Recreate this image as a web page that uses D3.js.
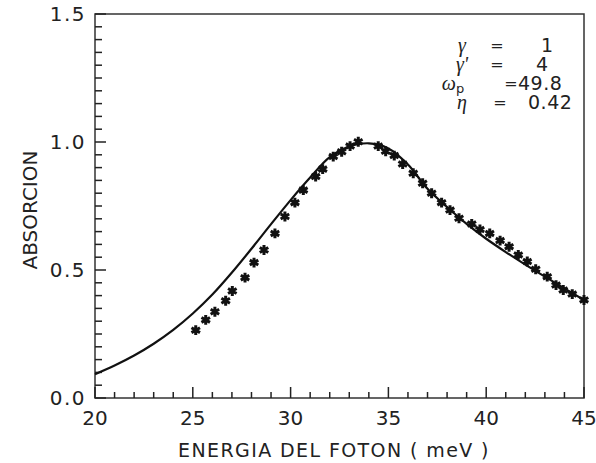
<!DOCTYPE html>
<html>
<head>
<meta charset="utf-8">
<script src="https://cdn.jsdelivr.net/npm/d3@7"></script>
<style>
  body { margin: 0; background: #fff; }
  text { font-family: "DejaVu Sans", sans-serif; fill: #222; }
  .greek { font-family: "Liberation Serif", serif; font-style: italic; }
</style>
</head>
<body>
<div id="chart"></div>
<script>
/* Absorcion vs energia del foton */

const height = 463,
    width = 596,
    margin = ({ top: 14, right: 12, bottom: 65, left: 95 });

// solid line (theory)
const curveE = [20, 21, 22, 23, 24, 25, 26, 27, 28, 29, 30, 31, 32, 33, 34, 35, 36, 37, 38, 39, 40, 41, 42, 43, 44, 45];
const curveA = [0.093, 0.127, 0.166, 0.212, 0.266, 0.330, 0.404, 0.490, 0.583, 0.679, 0.773, 0.861, 0.941, 0.982, 0.995, 0.975, 0.912, 0.817, 0.746, 0.680, 0.622, 0.570, 0.521, 0.474, 0.428, 0.383];

// asterisks (experiment)
const dataE = [25.15, 25.66, 26.13, 26.68, 27.02, 27.67, 28.13, 28.64, 29.20, 29.71, 30.22, 30.65, 31.28, 31.64, 32.18, 32.61, 33.04, 33.46,
    34.48, 34.86, 35.30, 35.73, 36.27, 36.75, 37.21, 37.72, 38.15, 38.61, 39.26, 39.68, 40.18, 40.71, 41.17, 41.64, 42.10, 42.53, 43.12, 43.57, 43.94, 44.40, 45.00];
const dataA = [0.265, 0.305, 0.337, 0.380, 0.418, 0.470, 0.529, 0.578, 0.643, 0.709, 0.763, 0.812, 0.865, 0.894, 0.943, 0.962, 0.984, 1.001,
    0.984, 0.964, 0.947, 0.914, 0.878, 0.839, 0.800, 0.763, 0.734, 0.702, 0.680, 0.658, 0.643, 0.615, 0.591, 0.559, 0.533, 0.503, 0.474, 0.441, 0.422, 0.406, 0.383];

const xTicks = [20, 25, 30, 35, 40, 45];
const yTicks = [0, 0.5, 1.0, 1.5];

// parameters box
const paramSym = ["γ", "γ'", "ω", "η"];
const paramVal = ["1", "4", "49.8", "0.42"];

const svg = d3.select("#chart")
    .append("svg")
    .attr("width", width)
    .attr("height", height);

let x = d3.scaleLinear()
    .domain([20, 45])
    .range([margin.left, width - margin.right]);

let y = d3.scaleLinear()
    .domain([0, 1.5])
    .range([height - margin.bottom, margin.top]);

/* frame */
svg.append("rect")
    .attr("x", x(20))
    .attr("y", y(1.5))
    .attr("width", x(45) - x(20))
    .attr("height", y(0) - y(1.5))
    .attr("fill", "none")
    .attr("stroke", "#333")
    .attr("stroke-width", 1.5);

/* ticks, pointing inside */
const xMinor = d3.range(20, 45.5, 1);
const yMinor = d3.range(0, 30.5, 1).map(i => i * 0.05);

svg.append("g")
    .selectAll("line")
    .data(xMinor)
    .join("line")
    .attr("x1", d => x(d))
    .attr("x2", d => x(d))
    .attr("y1", y(0))
    .attr("y2", d => y(0) - (d % 5 == 0 ? 11 : 6))
    .style("stroke", "#222")
    .style("stroke-width", "1.5px");

svg.append("g")
    .selectAll("line")
    .data(yMinor)
    .join("line")
    .attr("x1", x(20))
    .attr("x2", (d, i) => x(20) + (i % 10 == 0 ? 11 : 7))
    .attr("y1", d => y(d))
    .attr("y2", d => y(d))
    .style("stroke", "#222")
    .style("stroke-width", "1.5px");

/* tick labels */
svg.append("g")
    .selectAll("text")
    .data(xTicks)
    .join("text")
    .attr("x", d => x(d))
    .attr("y", 425)
    .attr("text-anchor", "middle")
    .attr("font-size", 20)
    .text(d => d);

svg.append("g")
    .selectAll("text")
    .data(yTicks)
    .join("text")
    .attr("x", x(20) - 9)
    .attr("y", d => y(d))
    .attr("dy", "0.36em")
    .attr("text-anchor", "end")
    .attr("font-size", 20)
    .attr("letter-spacing", 1.5)
    .text(d => d3.format(".1f")(d));

/* labels */
svg.append("text")
    .attr("text-anchor", "middle")
    .attr("x", 334)
    .attr("y", 457)
    .attr("font-size", 19)
    .attr("letter-spacing", 1.4)
    .text("ENERGIA DEL FOTON ( meV )");

svg.append("text")
    .attr("text-anchor", "middle")
    .attr("transform", "translate(37,210) rotate(-90)")
    .attr("font-size", 20)
    .text("ABSORCION");

/* line */
let line = d3.line()
    .x(d => x(d[0]))
    .y(d => y(d[1]))
    .curve(d3.curveCatmullRom);

svg.append("path")
    .datum(d3.zip(curveE, curveA))
    .attr("d", line)
    .attr("fill", "none")
    .attr("stroke", "#111")
    .attr("stroke-width", 2.2);

/* asterisks */
svg.append("g")
    .selectAll("path")
    .data(d3.zip(dataE, dataA))
    .join("path")
    .attr("transform", d => `translate(${x(d[0])},${y(d[1])})`)
    .attr("d", d3.symbol(d3.symbolAsterisk, 68))
    .attr("fill", "none")
    .attr("stroke", "#111")
    .attr("stroke-width", 3);

/* parameter box */
const rowY = [52, 71, 90, 109];
const eqX = [497, 497, 511, 500];
const valX = [541, 536, 518, 528];

paramSym.forEach((s, i) => {
    const t = svg.append("text")
        .attr("class", "greek")
        .attr("text-anchor", "middle")
        .attr("x", i == 2 ? 453 : 462)
        .attr("y", rowY[i])
        .attr("font-size", 20)
        .text(s);
    if (i == 2) {
        t.append("tspan").attr("font-size", 13).attr("font-style", "normal")
            .attr("font-family", "DejaVu Sans").attr("dy", 3).text("p");
    }
    svg.append("text")
        .attr("x", eqX[i])
        .attr("y", rowY[i] - 1)
        .attr("text-anchor", "middle")
        .attr("font-size", 16)
        .text("=");
    svg.append("text")
        .attr("x", valX[i])
        .attr("y", rowY[i])
        .attr("font-size", 19)
        .attr("letter-spacing", 0.5)
        .text(paramVal[i]);
});
</script>
</body>
</html>
